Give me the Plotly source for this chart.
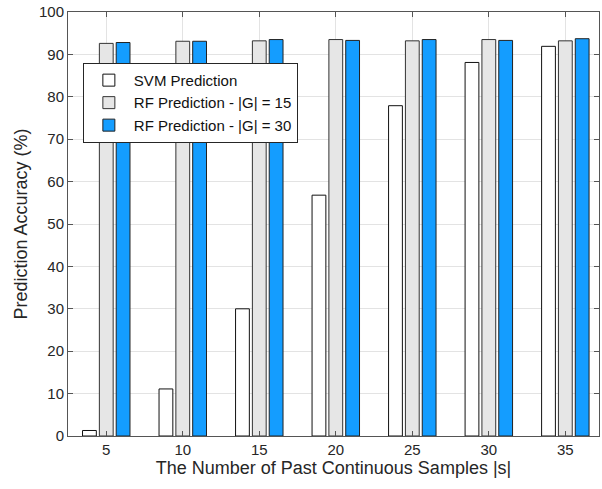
import plotly.graph_objects as go

categories = [5, 10, 15, 20, 25, 30, 35]
svm = [1.3, 11.1, 30.0, 56.8, 77.9, 88.1, 91.9]
rf15 = [92.6, 93.1, 93.2, 93.5, 93.2, 93.5, 93.2]
rf30 = [92.8, 93.1, 93.5, 93.3, 93.5, 93.3, 93.7]
names = ["SVM Prediction", "RF Prediction - |G| = 15", "RF Prediction - |G| = 30"]

fig = go.Figure()
fig.add_bar(x=categories, y=svm, name=names[0], marker=dict(color="white", line=dict(color="#111111", width=1)))
fig.add_bar(x=categories, y=rf15, name=names[1], marker=dict(color="#E6E6E6", line=dict(color="#333333", width=1)))
fig.add_bar(x=categories, y=rf30, name=names[2], marker=dict(color="#149DFF", line=dict(color="#222222", width=1)))

axis_common = dict(showline=True, linecolor="#555555", linewidth=1, mirror="ticks",
                   ticks="inside", ticklen=5, tickcolor="#555555",
                   showgrid=True, gridcolor="#E3E3E3", gridwidth=1, zeroline=False,
                   tickfont=dict(family="Liberation Sans, Arial", size=15, color="#262626"))

fig.update_layout(
    width=602, height=489,
    margin=dict(l=68, r=3, t=12, b=53),
    paper_bgcolor="white", plot_bgcolor="white",
    barmode="group", bargap=0.34, bargroupgap=0.18,
    font=dict(family="Liberation Sans, Arial", color="#262626"),
    xaxis=dict(axis_common, range=[2.5, 37.2], tickvals=categories,
               title=dict(text="The Number of Past Continuous Samples |s|", font=dict(size=18), standoff=4)),
    yaxis=dict(axis_common, range=[0, 100], dtick=10,
               title=dict(text="Prediction Accuracy (%)", font=dict(size=18), standoff=6)),
    legend=dict(x=0.028, y=0.88, xanchor="left", yanchor="top",
                bgcolor="white", bordercolor="#262626", borderwidth=1,
                font=dict(size=15, color="#111111"), tracegroupgap=0, itemwidth=40),
)

fig.write_html("out.html", config={"displayModeBar": False},
               post_script="document.body.style.margin='0';")
